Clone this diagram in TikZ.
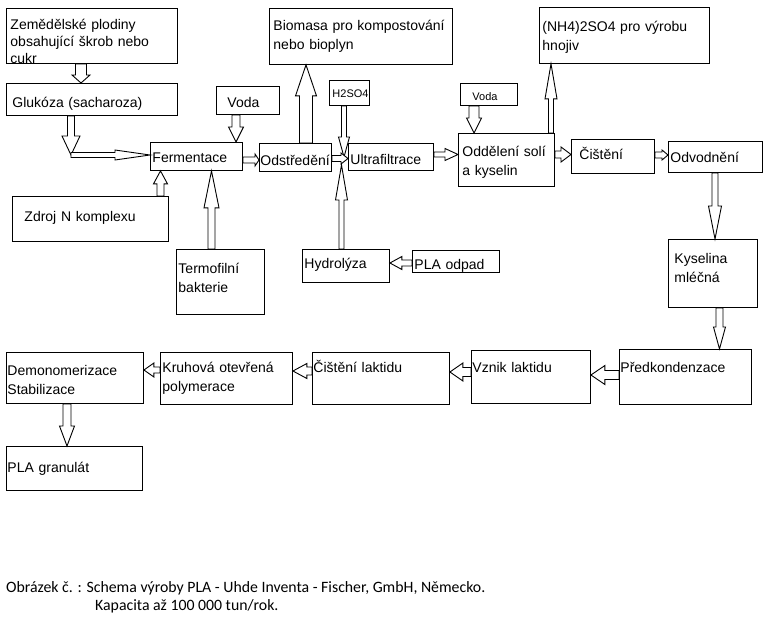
\documentclass[tikz,border=0pt]{standalone}
\usepackage{fontspec}
\setmainfont{Liberation Sans}
\newfontfamily\capfont{Carlito}
\usetikzlibrary{calc,backgrounds}
\newcommand\bxfont{\fontsize{14}{19}\selectfont}
\newcommand\smfont{\fontsize{11}{13}\selectfont}
\tikzset{
  bx/.style n args={4}{draw, line width=0.9pt, anchor=north west, align=left,
    inner ysep=0pt, inner xsep=#2, text width=#1, text height=#3, text depth=#4, font=\bxfont},
  blkarrow/.style={draw, fill=white, line width=0.9pt, line join=miter},
  captxt/.style={anchor=base west, inner sep=0pt, font=\capfont\fontsize{15.8}{18}\selectfont}
}
% block arrow: #1 from, #2 to, #3 shaft half width, #4 head half width, #5 head length
\newcommand\blk[5]{%
  \path #1 coordinate (bkA) #2 coordinate (bkB);
  \path let \p1=($(bkB)-(bkA)$), \n1={atan2(\y1,\x1)}, \n2={veclen(\x1,\y1)} in
    \pgfextra{\pgfmathparse{\n1}\xdef\bkang{\pgfmathresult}\pgfmathparse{\n2}\xdef\bklen{\pgfmathresult}};
  \begin{scope}[shift={(bkA)}, rotate=\bkang]
    \draw[blkarrow] (0pt,{-#3pt}) -- ({\bklen pt-#5pt},{-#3pt}) -- ({\bklen pt-#5pt},{-#4pt})
      -- ({\bklen pt},0pt) -- ({\bklen pt-#5pt},{#4pt}) -- ({\bklen pt-#5pt},{#3pt}) -- (0pt,{#3pt}) -- cycle;
  \end{scope}}
\begin{document}
\begin{tikzpicture}[x=1pt,y=-1pt]
\useasboundingbox (0,0) rectangle (768,628);
% boxes
\node[bx={163pt}{4pt}{21pt}{34pt}, font=\fontsize{14}{17}\selectfont] (zem) at (6,8) {Zemědělské plodiny\\obsahující škrob nebo\\cukr};
\node[bx={159pt}{6pt}{24pt}{8pt}] (glu) at (6,83) {Glukóza (sacharoza)};
\node[bx={41pt}{11pt}{21pt}{7pt}] (vodaL) at (216,86) {Voda};
\node[bx={88pt}{2pt}{20pt}{8pt}] (fer) at (150,142) {Fermentace};
\node[bx={132pt}{12pt}{25pt}{20pt}] (zdroj) at (12,196) {Zdroj N komplexu};
\node[bx={84pt}{2pt}{24pt}{41pt}] (termo) at (176,249) {Termofilní\\bakterie};
\node[bx={70pt}{1pt}{22pt}{6pt}] (ods) at (259,143) {Odstředění};
\node[bx={175pt}{4pt}{22pt}{34pt}] (bio) at (269,8) {Biomasa pro kompostování\\nebo bioplyn};
\node[bx={34pt}{3pt}{17pt}{8pt}, font=\smfont] (h2) at (329,80) {H2SO4};
\node[bx={81pt}{2pt}{21pt}{6pt}] (uf) at (348,143) {Ultrafiltrace};
\node[bx={83pt}{2pt}{19pt}{14pt}] (hyd) at (302,249) {Hydrolýza};
\node[bx={83pt}{2pt}{19pt}{3pt}] (pla) at (412,250) {PLA odpad};
\node[bx={33pt}{12pt}{17pt}{5pt}, font=\smfont] (vodaR) at (460,83) {Voda};
\node[bx={88pt}{4pt}{23pt}{30pt}] (odd) at (458,133) {Oddělení solí\\a kyselin};
\node[bx={164pt}{3pt}{24pt}{32pt}] (nh) at (539,7) {(NH4)2SO4 pro výrobu\\hnojiv};
\node[bx={67pt}{8pt}{20pt}{14pt}] (cis) at (571,139) {Čištění};
\node[bx={90pt}{2pt}{21pt}{10pt}] (odv) at (668,141) {Odvodnění};
\node[bx={77pt}{6pt}{24pt}{44pt}] (kys) at (668,239) {Kyselina\\mléčná};
\node[bx={130pt}{1pt}{23pt}{32pt}] (pred) at (619,349) {Předkondenzace};
\node[bx={117pt}{1pt}{22pt}{31pt}] (vzn) at (471,350) {Vznik laktidu};
\node[bx={135pt}{1pt}{20pt}{32pt}] (cl) at (312,352) {Čištění laktidu};
\node[bx={128pt}{2pt}{20pt}{32pt}] (kru) at (160,352) {Kruhová otevřená\\polymerace};
\node[bx={135pt}{1pt}{23pt}{28pt}] (dem) at (6,352) {Demonomerizace\\Stabilizace};
\node[bx={134pt}{1pt}{26pt}{18pt}] (gran) at (6,446) {PLA granulát};
% free ends
\coordinate (gk) at (71,155);
\coordinate (h2tip) at (344,157);
\coordinate (hytip) at (341.5,165);
% arrows
\begin{scope}[on background layer]
\blk{(zem.south -| 81,0)}{(glu.north -| 81,0)}{5.5}{9}{8}
\blk{(glu.south -| gk)}{(gk)}{3.5}{9}{19}
\blk{(gk)}{(fer.west |- gk)}{2.5}{5}{35}
\blk{(vodaL.south -| 236,0)}{(fer.north -| 236,0)}{4}{7.5}{15}
\blk{(zdroj.north -| 160.5,0)}{(fer.south -| 160.5,0)}{3.5}{7}{13}
\blk{(termo.north -| 211.5,0)}{(fer.south -| 211.5,0)}{3.5}{7.5}{37}
\blk{(fer.east |- 0,160)}{(ods.west |- 0,160)}{3}{6}{4}
\blk{(ods.north -| 306,0)}{(bio.south -| 306,0)}{6.5}{10.5}{31}
\blk{(h2.south -| h2tip)}{(h2tip)}{2.5}{5.5}{20}
\blk{(ods.east |- 0,158.5)}{(uf.west |- 0,158.5)}{3}{5.5}{7}
\blk{(hyd.north -| hytip)}{(hytip)}{2.5}{6}{35}
\blk{(uf.east |- 0,154.5)}{(odd.west |- 0,154.5)}{2.5}{6}{13}
\blk{(pla.west |- 0,263)}{(hyd.east |- 0,263)}{3}{6.5}{12}
\blk{(vodaR.south -| 474,0)}{(odd.north -| 474,0)}{5}{7.5}{15}
\blk{(odd.north -| 551,0)}{(nh.south -| 551,0)}{2.5}{6}{35}
\blk{(odd.east |- 0,154.5)}{(cis.west |- 0,154.5)}{3.5}{7.5}{10}
\blk{(cis.east |- 0,155)}{(odv.west |- 0,155)}{3}{5}{6}
\blk{(odv.south -| 715,0)}{(kys.north -| 715,0)}{3}{6.5}{33}
\blk{(kys.south -| 719.5,0)}{(pred.north -| 719.5,0)}{3.5}{6}{22}
\blk{(pred.west |- 0,375)}{(vzn.east |- 0,375)}{4.5}{9.5}{14}
\blk{(vzn.west |- 0,372)}{(cl.east |- 0,372)}{4.5}{9}{13}
\blk{(cl.west |- 0,371)}{(kru.east |- 0,371)}{4}{7.5}{14}
\blk{(kru.west |- 0,370)}{(dem.east |- 0,370)}{3}{7}{10}
\blk{(dem.south -| 67,0)}{(gran.north -| 67,0)}{4}{7.5}{20}
\end{scope}
% caption
\node[captxt] (cap1) at (6,592) {Obrázek č. : Schema výroby PLA - Uhde Inventa - Fischer, GmbH, Německo.};
\node[captxt] (cap2) at (95,610) {Kapacita až 100 000 tun/rok.};
\end{tikzpicture}
\end{document}
